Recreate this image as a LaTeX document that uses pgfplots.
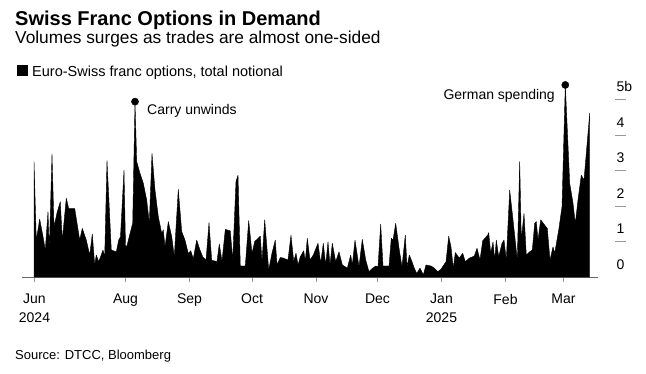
\documentclass[border=0pt]{standalone}
\usepackage{fontspec}
\setmainfont{Liberation Sans}
\usepackage{pgfplots}
\usepackage{pgfplotstable}
\pgfplotsset{compat=1.18}
\definecolor{axisgray}{HTML}{666666}
\definecolor{tickgray}{HTML}{999999}
\pgfplotstableread{
x y
34 3.25
36.3 1.04
39.7 1.63
43 1.14
45.3 0.76
48 1.84
49.3 0.76
52 3.46
54 1.42
57.3 1.84
60.3 2.12
62.3 1.04
66.3 2.22
68.7 1.93
74.7 1.93
79.7 1.04
82.3 1.37
86.3 1.04
89.7 0.62
92.3 1.21
94.7 0.34
96.3 0.62
98.7 0.43
103 0.76
104.7 0.57
107 3.28
111.3 0.76
116.3 0.71
118.7 1.04
120.5 1.14
124 3.01
125.5 0.90
126.7 0.85
132.7 1.52
135 4.94
136.7 3.25
140 2.92
143.3 2.64
146.7 2.17
149.3 1.52
152 3.48
155 2.45
158.3 1.70
161.7 1.23
163.3 1.33
165 0.85
168.3 1.56
171.7 1.14
174.3 0.57
178.3 2.47
181.7 1.28
185 1.04
188.3 0.66
190.7 0.74
193.3 0.52
196.7 1.04
200 0.76
202.7 0.57
206 0.47
209 1.53
211.7 0.47
215 0.45
217 0.44
219.3 0.93
222 0.44
225.3 1.34
230.3 1.30
232.7 0.48
236 2.69
238 2.87
240.3 0.31
245.3 0.31
248.7 1.59
252 0.67
254.7 1.00
260.3 1.15
262 0.44
264.7 1.61
268.7 0.20
272 0.67
275.3 1.04
277 0.34
280.3 0.55
283.7 0.53
288 0.48
291 1.18
293.7 0.44
296 0.67
298 0.34
300.3 0.57
303.7 0.74
305.3 0.44
307.3 1.09
310 0.48
313.3 0.62
318 0.95
320.7 0.39
323.3 0.95
325.7 0.34
328 0.99
330 0.34
332.3 0.95
335.7 0.43
339 0.71
342.3 0.34
347.3 0.25
350.7 0.62
352.3 0.34
355 1.04
359 0.29
362.3 1.06
365.7 0.48
369 0.15
372.3 0.24
375.7 0.31
378 0.29
380.7 1.49
383 0.31
389 0.31
391.3 1.09
393 1.04
395.7 1.51
399.3 0.76
402 0.29
405.3 1.18
407 0.29
409.3 0.62
412 0.43
414.3 0.25
416.7 0.10
420 0.25
423.3 0.06
426 0.34
431 0.31
434.3 0.25
437.7 0.15
441 0.22
446 0.43
448.7 1.15
451 0.85
453.3 0.25
455.3 0.69
459.3 0.53
462.7 0.67
465.3 0.43
469.3 0.53
474.3 0.59
477 0.81
480 0.48
482.7 1.02
487.7 1.18
488.7 1.25
490.7 0.67
493 0.99
494.7 0.48
496.3 1.04
498.7 0.57
502 0.95
504 1.04
506.3 0.48
509.7 2.45
513 1.61
517.3 0.48
519.7 3.25
521.3 1.04
524 1.79
526.3 0.62
529.7 0.71
532.3 0.76
534.7 1.51
536.3 1.56
538 1.04
540.7 1.61
544.7 1.46
547.3 1.37
550 0.48
553 0.85
554.7 0.67
558.7 1.32
562 1.98
565.3 5.41
569.7 2.64
573 2.08
575.3 1.51
578 2.17
581.3 2.87
584 2.73
589.7 4.61
}\volumes
\pgfplotstableread{
x y
135 4.94
565.3 5.41
}\peaks
\begin{document}
\begin{tikzpicture}[x=1pt,y=1pt]
\begin{axis}[
  anchor=south west,
  scale only axis, width=576pt, height=198.8pt,
  xmin=22, xmax=598, ymin=0, ymax=5.6,
  clip=false,
  axis x line*=bottom, axis y line*=right,
  x axis line style={-, axisgray, line width=0.8pt},
  y axis line style={draw=none},
  /pgf/number format/assume math mode=true,
  tick align=outside, major tick length=5pt,
  xtick={34.5,125.5,189.5,252,316,377.5,441.5,505.5,563.5},
  xticklabels={Jun\\2024,Aug,Sep,Oct,Nov,Dec,Jan\\2025,Feb,Mar},
  xticklabel style={align=center, anchor=north, inner sep=0pt, yshift=-12pt, font=\fontsize{14}{19}\selectfont},
  x tick style={tickgray, line width=0.8pt},
  ytick={0,1,2,3,4,5},
  yticklabels={0,1,2,3,4,5b},
  y tick style={draw=none},
  yticklabel style={anchor=south west, inner sep=0pt, xshift=13.5pt, yshift=7.5pt, font=\fontsize{14}{17}\selectfont},
]
\addplot[fill=black, draw=black, line width=0.4pt, line join=round] table {\volumes} \closedcycle;
\addplot[only marks, mark=*, mark size=3.6pt, black] table {\peaks};
\pgfplotsinvokeforeach{1,...,5}{\draw[tickgray, line width=1pt] (axis cs:615,#1) -- (axis cs:626,#1);}
\node[anchor=west, inner sep=0pt, font=\fontsize{14}{17}\selectfont] at (axis cs:147,4.68) {Carry unwinds};
\node[anchor=east, inner sep=0pt, font=\fontsize{14}{17}\selectfont] at (axis cs:555,5.10) {German spending};
\end{axis}
% page coordinates: image pixel (px,py) -> (px-22, 277-py)
\node[anchor=base west, inner sep=0pt, font=\fontsize{20}{24}\selectfont\bfseries] at (-7,252) {Swiss Franc Options in Demand};
\node[anchor=base west, inner sep=0pt, font=\fontsize{17.3}{20}\selectfont] at (-7,234) {Volumes surges as trades are almost one-sided};
\fill[black] (-5,201) rectangle (6,212);
\node[anchor=base west, inner sep=0pt, font=\fontsize{14.5}{17}\selectfont] at (10,201) {Euro-Swiss franc options, total notional};
\node[anchor=base west, inner sep=0pt, font=\fontsize{13}{16}\selectfont] at (-7,-82) {Source: DTCC, Bloomberg};
\pgfresetboundingbox
\path[use as bounding box] (-22,-96) rectangle (624,277);
\end{tikzpicture}
\end{document}
